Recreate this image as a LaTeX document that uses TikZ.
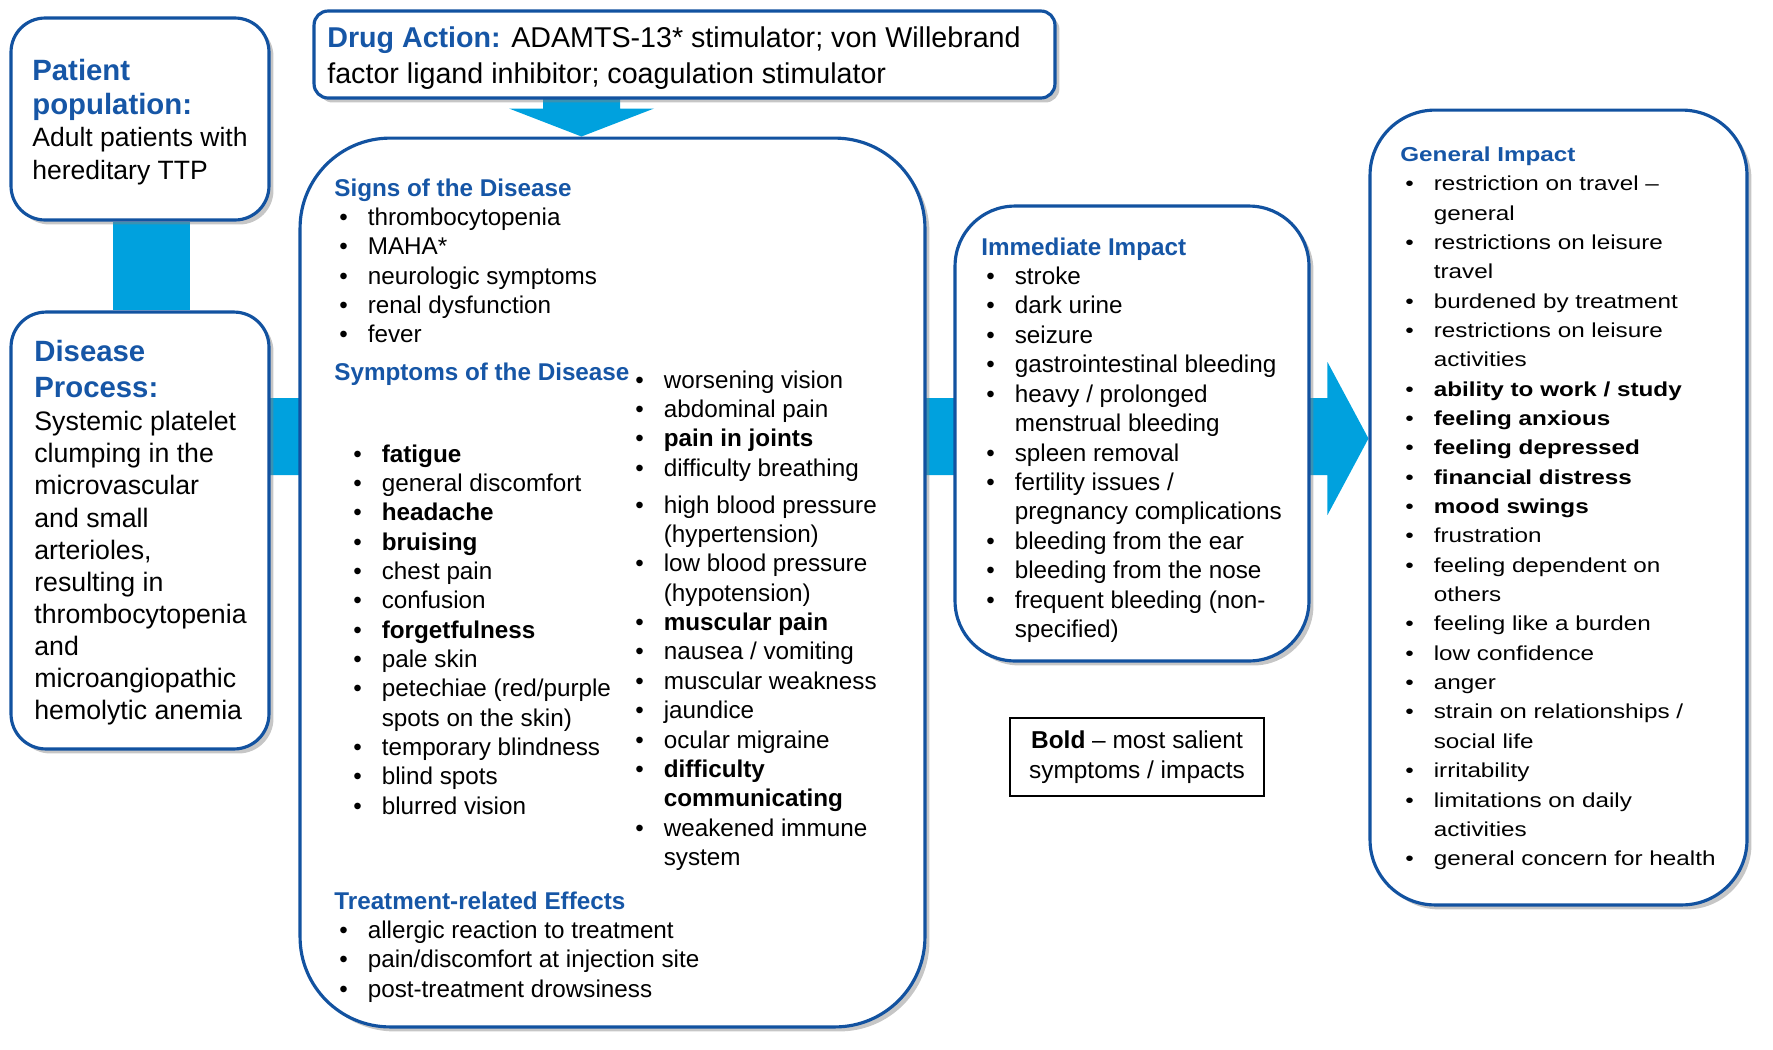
\documentclass[tikz,border=0pt]{standalone}
\usepackage{fontspec}
\setmainfont{Liberation Sans}
\newfontfamily\widefont[FakeStretch=1.2]{Liberation Sans}
\usetikzlibrary{positioning,calc,shadows,backgrounds}

\definecolor{boxblue}{RGB}{18,82,160}
\definecolor{headblue}{RGB}{22,86,166}
\definecolor{bandcyan}{RGB}{0,161,222}

% list helpers
\newcommand{\itm}[1]{\hspace*{0.1cm}\makebox[0.57cm][l]{\textbullet}#1}
\newcommand{\cnt}[1]{\hspace*{0.67cm}#1}
\newcommand{\hd}[1]{\textcolor{headblue}{\bfseries #1}}

\begin{document}
\begin{tikzpicture}[x=0.02cm, y=-0.02cm,
  card/.style={draw=boxblue, line width=1.8pt, fill=white, rounded corners=#1,
    drop shadow={shadow xshift=0.09cm, shadow yshift=-0.09cm, fill=black!50, opacity=0.45}},
  txt/.style={anchor=base west, inner sep=0pt},
  band/.style={fill=bandcyan}]
  \useasboundingbox (0,0) rectangle (1773,1049);

  % boxes
  \node[card=0.68cm, minimum width=5.16cm, minimum height=4.04cm] (patient) at (140,119) {};
  \node[card=0.7cm, minimum width=5.16cm, minimum height=8.74cm] (disease) at (140,530.5) {};
  \node[card=0.28cm, minimum width=14.82cm, minimum height=1.74cm] (drug) at (684.5,54.5) {};
  \node[card=1.8cm, minimum width=12.5cm, minimum height=17.78cm] (central) at (612.5,582.5) {};
  \node[card=1.2cm, minimum width=7.08cm, minimum height=9.1cm] (immediate) at (1132,433.5) {};
  \node[card=1.3cm, minimum width=7.54cm, minimum height=15.9cm] (general) at (1558.5,507.5) {};
  \node[draw=black, line width=1.3pt, minimum width=5.08cm, minimum height=1.56cm,
    align=center, font=\fontsize{13.9}{17}\selectfont] (legend) at (1137,757)
    {\textbf{Bold} – most salient\\symptoms / impacts};

  % connectors
  \begin{scope}[on background layer]
    \fill[band] ($(patient.south)+(-27,0)$) rectangle ($(disease.north)+(50,0)$);
    \coordinate (tip) at ($(general.west |- immediate.west)+(0,5)$);
    \fill[band] ($(disease.center |- tip)+(0,-40.5)$) -- ($(tip)+(-41,-40.5)$)
      -- ($(tip)+(-41,-76.5)$) -- (tip) -- ($(tip)+(-41,76.5)$)
      -- ($(tip)+(-41,36.5)$) -- ($(disease.center |- tip)+(0,36.5)$) -- cycle;
    \coordinate (dtip) at ($(central.north)+(-31,0)$);
    \fill[band] ($(dtip |- drug.center)+(-38.5,0)$) -- ($(dtip)+(-38.5,-28)$)
      -- ($(dtip)+(-72.5,-28)$) -- (dtip) -- ($(dtip)+(72.5,-28)$)
      -- ($(dtip)+(38.5,-28)$) -- ($(dtip |- drug.center)+(38.5,0)$) -- cycle;
  \end{scope}

  % texts
  \node[txt] (patientText) at (32,80) {\parbox[t]{5cm}{\fontsize{16.7}{19.35}\selectfont
    \hd{Patient\\population:}\par
    \fontsize{15.1}{18.6}\selectfont Adult patients with\\hereditary TTP}};

  \node[txt] (diseaseText) at (34,361) {\parbox[t]{5cm}{\fontsize{16.7}{20.5}\selectfont
    \hd{Disease\\Process:}\par\vspace{1pt}
    \fontsize{15.2}{18.25}\selectfont Systemic platelet\\clumping in the\\microvascular\\and small\\arterioles,\\resulting in\\thrombocytopenia\\and\\microangiopathic\\hemolytic anemia}};

  \node[txt] (drugText) at (327,47.5) {\parbox[t]{15cm}{\fontsize{16.3}{20.6}\selectfont
    \hd{Drug Action:} ADAMTS-13* stimulator; von Willebrand\\factor ligand inhibitor; coagulation stimulator}};

  \node[txt] (signs) at (334,196) {\parbox[t]{10cm}{\fontsize{13.8}{16.7}\selectfont
    \hd{Signs of the Disease}\\
    \itm{thrombocytopenia}\\
    \itm{MAHA*}\\
    \itm{neurologic symptoms}\\
    \itm{renal dysfunction}\\
    \itm{fever}}};

  \node[txt] (symHead) at (334,380) {\fontsize{13.8}{16.7}\selectfont\hd{Symptoms of the Disease}};

  \node[txt] (symLeft) at (348,462) {\parbox[t]{8cm}{\fontsize{13.8}{16.7}\selectfont
    \itm{\textbf{fatigue}}\\
    \itm{general discomfort}\\
    \itm{\textbf{headache}}\\
    \itm{\textbf{bruising}}\\
    \itm{chest pain}\\
    \itm{confusion}\\
    \itm{\textbf{forgetfulness}}\\
    \itm{pale skin}\\
    \itm{petechiae (red/purple}\\
    \cnt{spots on the skin)}\\
    \itm{temporary blindness}\\
    \itm{blind spots}\\
    \itm{blurred vision}}};

  \node[txt] (symRight) at (630,388) {\parbox[t]{8cm}{\fontsize{13.8}{16.7}\selectfont
    \itm{worsening vision}\\
    \itm{abdominal pain}\\
    \itm{\textbf{pain in joints}}\\
    \itm{difficulty breathing}\\[4.5pt]
    \itm{high blood pressure}\\
    \cnt{(hypertension)}\\
    \itm{low blood pressure}\\
    \cnt{(hypotension)}\\
    \itm{\textbf{muscular pain}}\\
    \itm{nausea / vomiting}\\
    \itm{muscular weakness}\\
    \itm{jaundice}\\
    \itm{ocular migraine}\\
    \itm{\textbf{difficulty}}\\
    \cnt{\textbf{communicating}}\\
    \itm{weakened immune}\\
    \cnt{system}}};

  \node[txt] (treatment) at (334,909) {\parbox[t]{10cm}{\fontsize{13.8}{16.7}\selectfont
    \hd{Treatment-related Effects}\\
    \itm{allergic reaction to treatment}\\
    \itm{pain/discomfort at injection site}\\
    \itm{post-treatment drowsiness}}};

  \node[txt] (immText) at (981,255) {\parbox[t]{8cm}{\fontsize{13.8}{16.75}\selectfont
    \hd{Immediate Impact}\\
    \itm{stroke}\\
    \itm{dark urine}\\
    \itm{seizure}\\
    \itm{gastrointestinal bleeding}\\
    \itm{heavy / prolonged}\\
    \cnt{menstrual bleeding}\\
    \itm{spleen removal}\\
    \itm{fertility issues /}\\
    \cnt{pregnancy complications}\\
    \itm{bleeding from the ear}\\
    \itm{bleeding from the nose}\\
    \itm{frequent bleeding (non-}\\
    \cnt{specified)}}};

  \node[txt] (genText) at (1400,161.5) {\parbox[t]{8cm}{\widefont\fontsize{11.5}{16.7}\selectfont
    \hd{General Impact}\\
    \itm{restriction on travel –}\\
    \cnt{general}\\
    \itm{restrictions on leisure}\\
    \cnt{travel}\\
    \itm{burdened by treatment}\\
    \itm{restrictions on leisure}\\
    \cnt{activities}\\
    \itm{\textbf{ability to work / study}}\\
    \itm{\textbf{feeling anxious}}\\
    \itm{\textbf{feeling depressed}}\\
    \itm{\textbf{financial distress}}\\
    \itm{\textbf{mood swings}}\\
    \itm{frustration}\\
    \itm{feeling dependent on}\\
    \cnt{others}\\
    \itm{feeling like a burden}\\
    \itm{low confidence}\\
    \itm{anger}\\
    \itm{strain on relationships /}\\
    \cnt{social life}\\
    \itm{irritability}\\
    \itm{limitations on daily}\\
    \cnt{activities}\\
    \itm{general concern for health}}};
\end{tikzpicture}
\end{document}
